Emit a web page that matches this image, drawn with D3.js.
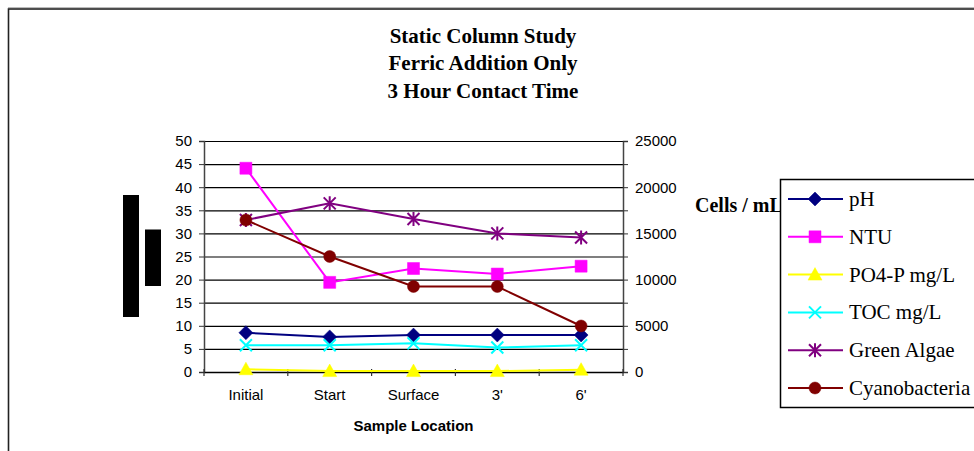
<!DOCTYPE html>
<html>
<head>
<meta charset="utf-8">
<script src="https://cdn.jsdelivr.net/npm/d3@7"></script>
<style>
  html, body { margin: 0; padding: 0; background: #fff; }
  svg { display: block; }
</style>
</head>
<body>
<svg id="chart" width="974" height="451"></svg>
<script>
// Sample locations along the static column
const categories = ["Initial", "Start", "Surface", "3'", "6'"];

// Water quality parameters (left axis)
const pH          = [8.5, 7.6, 8.0, 8.0, 8.0];
const ntu         = [44.1, 19.4, 22.4, 21.2, 22.9];
const po4p        = [0.6, 0.2, 0.2, 0.2, 0.5];
const toc         = [5.8, 5.8, 6.2, 5.3, 5.8];

// Algae counts, cells / mL (right axis)
const greenAlgae    = [16450, 18250, 16550, 15000, 14550];
const cyanobacteria = [16450, 12500, 9250, 9250, 4980];

const leftTicks  = [0, 5, 10, 15, 20, 25, 30, 35, 40, 45, 50];
const rightTicks = [0, 2500, 5000, 7500, 10000, 12500, 15000, 17500, 20000, 22500, 25000];
const titleLines = ["Static Column Study", "Ferric Addition Only", "3 Hour Contact Time"];

const series = [
  { name: "pH",            values: pH,            axis: "left",  color: "#000080", marker: "diamond" },
  { name: "NTU",           values: ntu,           axis: "left",  color: "#FF00FF", marker: "square" },
  { name: "PO4-P mg/L",    values: po4p,          axis: "left",  color: "#FFFF00", marker: "triangle" },
  { name: "TOC mg/L",      values: toc,           axis: "left",  color: "#00FFFF", marker: "x" },
  { name: "Green Algae",   values: greenAlgae,    axis: "right", color: "#800080", marker: "star" },
  { name: "Cyanobacteria", values: cyanobacteria, axis: "right", color: "#800000", marker: "circle" }
];

const svg = d3.select("#chart");
const plot = { left: 204, right: 623, top: 141, bottom: 372 };

const x = d3.scaleBand().domain(categories).range([plot.left, plot.right]);
const yL = d3.scaleLinear().domain([0, 50]).range([plot.bottom, plot.top]);
const yR = d3.scaleLinear().domain([0, 25000]).range([plot.bottom, plot.top]);

const serif = "'Liberation Serif', 'Times New Roman', serif";
const sans = "'Liberation Sans', Arial, sans-serif";

// Outer chart frame
svg.append("line").attr("x1", 8).attr("x2", 974).attr("y1", 7.5).attr("y2", 7.5)
  .attr("stroke", "#bbb").attr("stroke-width", 1);
svg.append("rect").attr("x", 8.5).attr("y", 9).attr("width", 1000).attr("height", 500)
  .attr("fill", "none").attr("stroke", "#222").attr("stroke-width", 1.6);

// Title
svg.append("g").selectAll("text").data(titleLines).join("text")
  .attr("x", 483).attr("y", (d, i) => 43 + i * 27.3)
  .attr("text-anchor", "middle")
  .attr("font-family", serif)
  .attr("font-weight", "bold").attr("font-size", 21)
  .text(d => d);

// Horizontal gridlines
svg.append("g")
  .attr("transform", `translate(${plot.left},0)`)
  .call(d3.axisLeft(yL).tickValues(leftTicks).tickSize(-(plot.right - plot.left)).tickFormat(""))
  .call(g => g.select(".domain").remove())
  .call(g => g.selectAll("line").attr("stroke", "#000").attr("stroke-width", 1.2));

// Left axis
svg.append("g")
  .attr("transform", `translate(${plot.left},0)`)
  .call(d3.axisLeft(yL).tickValues(leftTicks).tickSize(5).tickPadding(7))
  .call(g => g.select(".domain").attr("stroke", "#444").attr("stroke-width", 1.5))
  .call(g => g.selectAll("line").attr("stroke", "#333"))
  .call(g => g.selectAll("text").attr("font-family", sans).attr("font-size", 15).attr("fill", "#000"));

// Right axis (cells / mL)
svg.append("g")
  .attr("transform", `translate(${plot.right},0)`)
  .call(d3.axisRight(yR).tickValues(rightTicks).tickSize(5).tickPadding(7)
    .tickFormat(d => d % 5000 === 0 ? d : ""))
  .call(g => g.select(".domain").attr("stroke", "#444").attr("stroke-width", 1.5))
  .call(g => g.selectAll("line").attr("stroke", "#333"))
  .call(g => g.selectAll("text").attr("font-family", sans).attr("font-size", 15).attr("fill", "#000"));

// Bottom axis: category labels, with tick marks on band boundaries
const xAxis = svg.append("g")
  .attr("transform", `translate(0,${plot.bottom})`)
  .call(d3.axisBottom(x).tickSize(0).tickPadding(17))
  .call(g => g.select(".domain").attr("stroke", "#000").attr("stroke-width", 1.5))
  .call(g => g.selectAll("text").attr("font-family", sans).attr("font-size", 15).attr("fill", "#000"));
const bounds = categories.map(c => x(c)).concat([x.range()[1]]);
xAxis.selectAll("line.bound").data(bounds).join("line").attr("class", "bound")
  .attr("x1", d => d).attr("x2", d => d).attr("y1", -3).attr("y2", 4)
  .attr("stroke", "#333").attr("stroke-width", 1.2);

// Axis title
svg.append("text")
  .attr("x", (plot.left + plot.right) / 2).attr("y", 431)
  .attr("text-anchor", "middle")
  .attr("font-family", sans).attr("font-weight", "bold").attr("font-size", 15)
  .text("Sample Location");

// Left axis title blocks
svg.append("rect").attr("x", 123).attr("y", 195).attr("width", 16).attr("height", 122).attr("fill", "#000");
svg.append("rect").attr("x", 145).attr("y", 229.5).attr("width", 16).attr("height", 56.5).attr("fill", "#000");

// Right axis title
svg.append("text")
  .attr("x", 695).attr("y", 212)
  .attr("font-family", serif)
  .attr("font-weight", "bold").attr("font-size", 20)
  .text("Cells / mL");

// Marker shapes
function markerPath(type) {
  switch (type) {
    case "diamond":  return "M0,-7L7,0L0,7L-7,0Z";
    case "square":   return "M-6,-6H6V6H-6Z";
    case "triangle": return "M0,-7L7,5.5H-7Z";
    case "x":        return "M-6,-6L6,6M-6,6L6,-6";
    case "star":     return "M-6,-6L6,6M-6,6L6,-6M0,-7V7";
    case "circle":   return "M6,0A6,6 0 1,1 -6,0A6,6 0 1,1 6,0Z";
  }
}
function drawMarker(g, type, color) {
  const stroked = type === "x" || type === "star";
  g.append("path").attr("d", markerPath(type))
    .attr("fill", stroked ? "none" : color)
    .attr("stroke", color)
    .attr("stroke-width", stroked ? 2 : 0.5);
}

// Series lines and markers
series.forEach(s => {
  const y = s.axis === "left" ? yL : yR;
  const pts = s.values.map((v, i) => [x(categories[i]) + x.bandwidth() / 2, y(v)]);
  const g = svg.append("g");
  g.append("path").datum(pts)
    .attr("d", d3.line())
    .attr("fill", "none").attr("stroke", s.color).attr("stroke-width", 2);
  pts.forEach(p => {
    const m = g.append("g").attr("transform", `translate(${p[0]},${p[1]})`);
    drawMarker(m, s.marker, s.color);
  });
});

// Legend
const legend = svg.append("g");
legend.append("rect").attr("x", 780.5).attr("y", 179.5).attr("width", 300).attr("height", 228)
  .attr("fill", "#fff").attr("stroke", "#000").attr("stroke-width", 1.5);
series.forEach((s, i) => {
  const cy = 199 + i * 37.8;
  const row = legend.append("g");
  row.append("line").attr("x1", 788).attr("x2", 843).attr("y1", cy).attr("y2", cy)
    .attr("stroke", s.color).attr("stroke-width", 2);
  drawMarker(row.append("g").attr("transform", `translate(815,${cy})`), s.marker, s.color);
  row.append("text").attr("x", 849).attr("y", cy + 7)
    .attr("font-family", serif)
    .attr("font-size", 21)
    .text(s.name);
});
</script>
</body>
</html>
